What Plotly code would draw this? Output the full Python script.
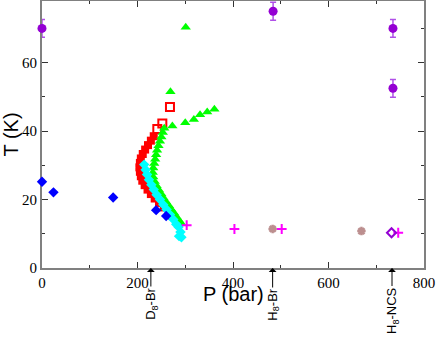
import plotly.graph_objects as go

# data (P in bar, T in K)
circ_p = [0, 484, 735, 735]
circ_t = [70.0, 75.0, 70.0, 52.5]
circ_err = [2.6, 2.6, 2.6, 2.6]

blue_p = [0, 24, 149, 239, 260]
blue_t = [25.2, 22.1, 20.6, 16.9, 15.2]

red_p = [234, 228, 222, 216, 211, 207, 205, 204, 205, 207, 210, 215, 221, 228, 236, 245, 255, 265, 272]
red_t = [38.5, 37.2, 35.9, 34.6, 33.3, 32.0, 30.7, 29.4, 28.1, 26.8, 25.5, 24.2, 22.9, 21.6, 20.3, 19.0, 17.7, 16.5, 15.3]

red_open_p = [268, 252, 241.5]
red_open_t = [47.0, 42.2, 40.6]

green_p = [256, 253, 250, 247, 244, 241, 239, 237, 235, 233, 232, 233, 236, 240, 245, 250, 255, 260,
           266, 271, 277, 282, 287, 292,
           269, 273, 300, 318, 331, 346, 361, 301]
green_t = [40.8, 39.6, 38.3, 37.0, 35.7, 34.4, 33.1, 31.8, 30.5, 29.2, 27.9, 26.6, 25.3, 24.0, 22.8, 21.6, 20.4, 19.3,
           18.2, 17.1, 16.0, 14.9, 13.9, 13.0,
           51.5, 41.5, 42.4, 43.4, 44.8, 45.6, 46.4, 70.3]

cyan_p = [214, 217, 220, 224, 229, 234, 240, 247, 254, 261, 268, 275, 281, 286, 290, 287, 292]
cyan_t = [30.2, 28.7, 27.3, 25.8, 24.3, 22.9, 21.4, 20.0, 18.5, 17.1, 15.6, 14.2, 12.8, 12.0, 10.5, 9.3, 9.0]

plus_p = [303, 403, 502, 746]
plus_t = [12.5, 11.4, 11.4, 10.3]

star_p = [483, 669]
star_t = [11.4, 10.8]

odiam_p = [732]
odiam_t = [10.3]

arrow_p = [228, 483, 733]
arrow_labels = ["D<sub>8</sub>-Br", "H<sub>8</sub>-Br", "H<sub>8</sub>-NCS"]
arrow_offsets = [36, 37, 43]

fig = go.Figure()

fig.add_trace(go.Scatter(x=red_p, y=red_t, mode='markers',
                         marker=dict(symbol='square', size=8, color='#ff0000')))
fig.add_trace(go.Scatter(x=red_open_p, y=red_open_t, mode='markers',
                         marker=dict(symbol='square-open', size=8, color='#ff0000', line=dict(width=2))))
fig.add_trace(go.Scatter(x=green_p, y=green_t, mode='markers',
                         marker=dict(symbol='triangle-up', size=9, color='#00ff00')))
fig.add_trace(go.Scatter(x=cyan_p, y=cyan_t, mode='markers',
                         marker=dict(symbol='diamond', size=8, color='#00ffff')))
fig.add_trace(go.Scatter(x=blue_p, y=blue_t, mode='markers',
                         marker=dict(symbol='diamond', size=8, color='#0000ff')))
fig.add_trace(go.Scatter(x=plus_p, y=plus_t, mode='markers',
                         marker=dict(symbol='cross-thin', size=7, color='#ff00ff',
                                     line=dict(width=2, color='#ff00ff'))))
fig.add_trace(go.Scatter(x=star_p, y=star_t, mode='markers',
                         marker=dict(symbol='asterisk', size=7, color='#bc8f8f',
                                     line=dict(width=2.5, color='#bc8f8f'))))
fig.add_trace(go.Scatter(x=odiam_p, y=odiam_t, mode='markers',
                         marker=dict(symbol='diamond-open', size=7, color='#9400d3', line=dict(width=2))))
fig.add_trace(go.Scatter(x=circ_p, y=circ_t, mode='markers',
                         marker=dict(symbol='circle', size=9, color='#9400d3'),
                         error_y=dict(type='data', array=circ_err, color='#b050e8', thickness=1.5, width=3)))
fig.update_traces(cliponaxis=False, hoverinfo='skip')

# arrows and labels under the x axis
for p, lab, off in zip(arrow_p, arrow_labels, arrow_offsets):
    fig.add_annotation(x=p, y=0, xref='x', yref='paper', text=lab, textangle=-90,
                       showarrow=True, arrowhead=1, arrowsize=1.3, arrowwidth=1, arrowcolor='black',
                       ax=0, ay=off, font=dict(family='Liberation Sans', size=13, color='black'))

# x axis title placed by hand (closer to the ticks than plotly allows)
fig.add_annotation(x=0.5, y=0, xref='paper', yref='paper', text='P (bar)', showarrow=False,
                   yanchor='middle', yshift=-26, font=dict(family='Liberation Sans', size=20, color='black'))

axis_style = dict(showline=True, linecolor='#808080', linewidth=2, mirror='ticks',
                  ticks='inside', ticklen=6, tickwidth=1, tickcolor='#333333',
                  showgrid=False, zeroline=False, layer='below traces', automargin=False,
                  tickfont=dict(family='Liberation Serif', size=15, color='black'))

fig.update_xaxes(range=[0, 800], dtick=200, minor=dict(dtick=100, ticklen=3, ticks='inside', tickcolor='#333333'),
                 **axis_style)
fig.update_yaxes(range=[0, 78], dtick=20, minor=dict(dtick=10, ticklen=3, ticks='inside', tickcolor='#333333'),
                 title=dict(text='T (K)', font=dict(family='Liberation Sans', size=20, color='black'), standoff=4),
                 **axis_style)

fig.update_layout(width=436, height=337, margin=dict(l=42, r=12, t=1, b=69),
                  plot_bgcolor='white', paper_bgcolor='white', showlegend=False)

# drop the page's default body margin so the figure sits at the top-left corner
fig.write_html("out.html", config={'displayModeBar': False},
               post_script="document.body.style.margin='0';")
